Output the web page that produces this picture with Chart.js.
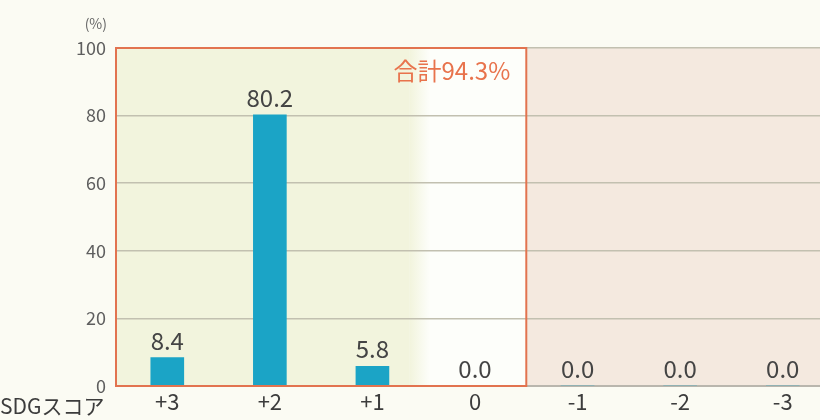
<!DOCTYPE html>
<html><head><meta charset="utf-8">
<script src="https://cdn.jsdelivr.net/npm/chart.js@4"></script>
<style>
html,body{margin:0;padding:0;background:#fbfbf3;overflow:hidden;}
canvas{display:block;}
</style></head>
<body>
<canvas id="c" width="834" height="420"></canvas>
<script>
const categories = ['+3','+2','+1','0','-1','-2','-3'];
const values = [8.4, 80.2, 5.8, 0.0, 0.0, 0.0, 0.0];
const yTicks = [0, 20, 40, 60, 80, 100];
const totalLabel = '合計94.3%';
const axisTitle = 'SDGスコア';
const unitLabel = '(%)';

const FONT = "'Noto Sans CJK JP','Noto Sans',sans-serif";

const bgPlugin = {
  id: 'bg',
  beforeDraw(chart) {
    const {ctx, chartArea: a, scales: {x}} = chart;
    const half = (x.getPixelForValue(1) - x.getPixelForValue(0)) / 2;
    const b1 = x.getPixelForValue(2) + half; // end of +1
    const b2 = x.getPixelForValue(3) + half; // end of 0
    ctx.save();
    const g = ctx.createLinearGradient(b1 - 14, 0, b1 + 6, 0);
    g.addColorStop(0, '#f2f4dd');
    g.addColorStop(1, '#fdfefa');
    ctx.fillStyle = '#f2f4dd';
    ctx.fillRect(a.left, a.top, b1 - 14 - a.left, a.bottom - a.top);
    ctx.fillStyle = g;
    ctx.fillRect(b1 - 14, a.top, 20, a.bottom - a.top);
    ctx.fillStyle = '#fdfefa';
    ctx.fillRect(b1 + 6, a.top, b2 - b1 - 6, a.bottom - a.top);
    ctx.fillStyle = '#f4e9df';
    ctx.fillRect(b2, a.top, a.right - b2, a.bottom - a.top);
    ctx.restore();
  },
  afterDatasetsDraw(chart) {
    const {ctx, chartArea: a, scales: {x, y}} = chart;
    const half = (x.getPixelForValue(1) - x.getPixelForValue(0)) / 2;
    const b2 = x.getPixelForValue(3) + half;
    ctx.save();
    ctx.strokeStyle = '#e2734f';
    ctx.lineWidth = 2;
    ctx.strokeRect(a.left, a.top, b2 - a.left, a.bottom - a.top);
    ctx.fillStyle = '#e8734c';
    ctx.font = '24px ' + FONT;
    ctx.textAlign = 'right';
    ctx.textBaseline = 'middle';
    ctx.fillText(totalLabel, b2 - 16, a.top + 23);
    ctx.fillStyle = '#444';
    ctx.font = '24px ' + FONT;
    ctx.textAlign = 'center';
    ctx.textBaseline = 'alphabetic';
    values.forEach((v, i) => {
      const px = x.getPixelForValue(i);
      const py = y.getPixelForValue(v);
      ctx.fillText(v.toFixed(1), px, py - 8);
    });
    ctx.textAlign = 'left';
    ctx.textBaseline = 'middle';
    ctx.fillStyle = '#3c3c3c';
    ctx.font = '21px ' + FONT;
    ctx.fillText(axisTitle, 0, 406);
    ctx.fillStyle = '#666';
    ctx.font = '14px ' + FONT;
    ctx.textAlign = 'right';
    ctx.fillText(unitLabel, 107, 24);
    ctx.restore();
  }
};

new Chart(document.getElementById('c'), {
  type: 'bar',
  data: {
    labels: categories,
    datasets: [{
      data: values,
      backgroundColor: '#1ba4c6',
      barThickness: 33
    }]
  },
  options: {
    responsive: false,
    animation: false,
    events: [],
    layout: {padding: {top: 48, right: 0, left: 0, bottom: 0}},
    plugins: {legend: {display: false}, tooltip: {enabled: false}},
    scales: {
      x: {
        grid: {display: false, drawTicks: false},
        border: {display: true, color: '#b9b6ad', width: 2},
        ticks: {color: '#3c3c3c', font: {size: 22, family: FONT}, padding: 2, maxRotation: 0},
        afterFit(s) { s.height = 34; }
      },
      y: {
        min: 0, max: 100,
        afterBuildTicks(s) { s.ticks = yTicks.map(v => ({value: v})); },
        grid: {color: '#c2c0b0', lineWidth: 1.5, drawTicks: false},
        border: {display: false},
        ticks: {color: '#5e5e5e', font: {size: 18, family: FONT}, padding: 10},
        afterFit(s) { s.width = 116; }
      }
    }
  },
  plugins: [bgPlugin]
});
</script>
</body></html>
